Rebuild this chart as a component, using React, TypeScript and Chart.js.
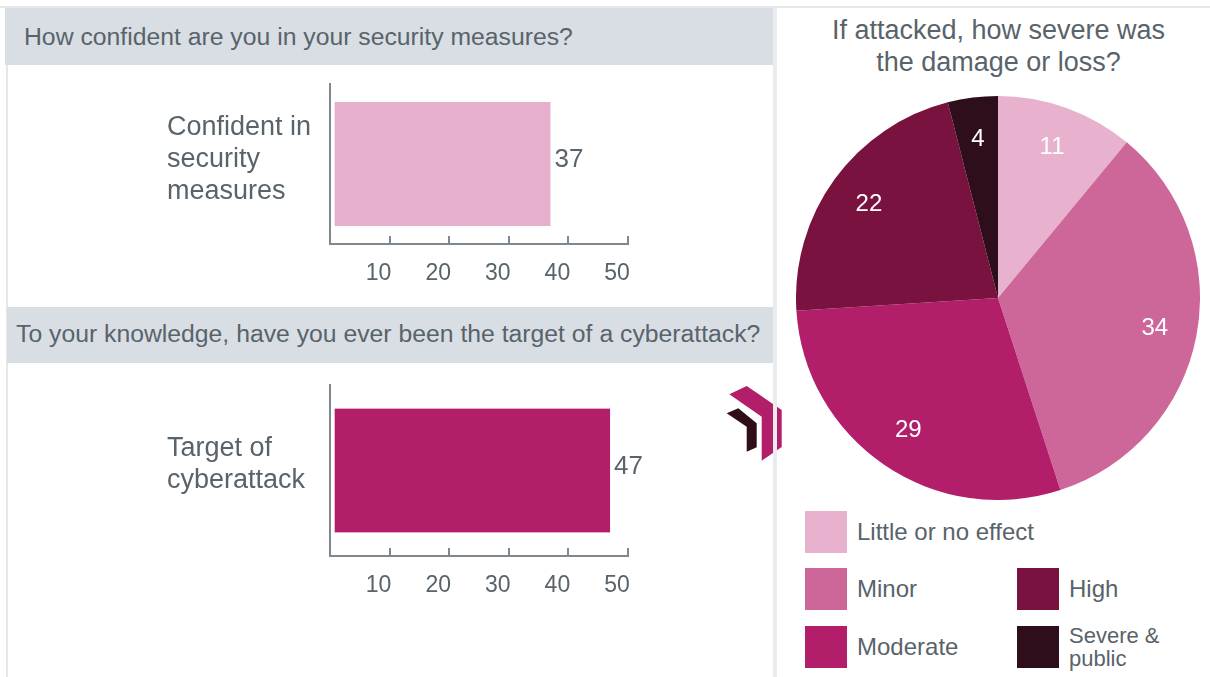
import React, { useEffect, useRef } from "react";
import { Chart, registerables } from "chart.js";

Chart.register(...registerables);

// ---------- data ----------
const xTickValues = [0, 10, 20, 30, 40, 50];
const confidenceCategory = [["Confident in", "security", "measures"]];
const confidenceValues = [37];
const attackCategory = [["Target of", "cyberattack"]];
const attackValues = [47];
const severityLabels = ["Little or no effect", "Minor", "Moderate", "High", "Severe & public"];
const severityValues = [11, 34, 29, 22, 4];
const severityColors = ["#e8b1cd", "#cd6699", "#b31e6b", "#79123f", "#2d0e1a"];

const headerOne = "How confident are you in your security measures?";
const headerTwo = "To your knowledge, have you ever been the target of a cyberattack?";
const pieTitle = ["If attacked, how severe was", "the damage or loss?"];

const FONT = "'Liberation Sans', Arial, Helvetica, sans-serif";
const TEXT = "#59636a";
const AXIS = "#7f888e";

const valueLabelPlugin = {
  id: "valueLabel",
  afterDatasetsDraw(chart: any) {
    const ctx = chart.ctx;
    const meta = chart.getDatasetMeta(0);
    const data = chart.data.datasets[0].data;
    ctx.save();
    ctx.fillStyle = TEXT;
    ctx.font = `26px ${FONT}`;
    ctx.textAlign = "left";
    ctx.textBaseline = "middle";
    meta.data.forEach((bar: any, i: number) => {
      ctx.fillText(String(data[i]), bar.x + 4, bar.y - 4);
    });
    ctx.restore();
  },
};

const pieLabelPlugin = {
  id: "pieLabel",
  afterDatasetsDraw(chart: any) {
    const ctx = chart.ctx;
    const meta = chart.getDatasetMeta(0);
    const data = chart.data.datasets[0].data;
    ctx.save();
    ctx.fillStyle = "#ffffff";
    ctx.font = `24px ${FONT}`;
    ctx.textAlign = "center";
    ctx.textBaseline = "middle";
    meta.data.forEach((arc: any, i: number) => {
      const p = arc.getProps(["x", "y", "startAngle", "endAngle", "outerRadius"], true);
      const mid = (p.startAngle + p.endAngle) / 2;
      const r = p.outerRadius * 0.79;
      ctx.fillText(String(data[i]), p.x + Math.cos(mid) * r, p.y + Math.sin(mid) * r);
    });
    ctx.restore();
  },
};

type BarProps = {
  labels: string[][];
  values: number[];
  color: string;
  left: number;
  top: number;
  width: number;
  height: number;
  labelShift: number;
};

function BarPanel({ labels, values, color, left, top, width, height, labelShift }: BarProps) {
  const ref = useRef<HTMLCanvasElement>(null);
  useEffect(() => {
    if (!ref.current) return;
    const chart = new Chart(ref.current, {
      type: "bar",
      data: {
        labels: labels as any,
        datasets: [
          {
            data: values,
            backgroundColor: color,
            borderColor: "rgba(0,0,0,0)",
            borderWidth: { left: 4, right: 0, top: 0, bottom: 0 } as any,
            borderSkipped: false,
            barThickness: 124,
          },
        ],
      },
      options: {
        indexAxis: "y",
        animation: false,
        responsive: false,
        maintainAspectRatio: false,
        layout: { padding: { top: 8, right: 39, bottom: 0, left: 0 } },
        plugins: { legend: { display: false }, tooltip: { enabled: false } },
        scales: {
          x: {
            type: "linear",
            min: 0,
            max: 50,
            afterBuildTicks: (s: any) => {
              s.ticks = xTickValues.map((v) => ({ value: v }));
            },
            afterFit: (s: any) => {
              s.height = 50;
            },
            grid: {
              display: true,
              drawOnChartArea: false,
              drawTicks: true,
              tickLength: -8,
              tickColor: AXIS,
              tickWidth: 2,
              color: AXIS,
              lineWidth: 2,
            },
            border: { display: true, color: AXIS, width: 2 },
            ticks: {
              padding: 24,
              labelOffset: -11,
              color: TEXT,
              font: { family: FONT, size: 23 },
              maxRotation: 0,
              autoSkip: false,
              callback: (v: any) => (Number(v) === 0 ? "" : String(v)),
            },
          },
          y: {
            afterFit: (s: any) => {
              s.width = 163;
              s.paddingTop = 0;
              s.paddingBottom = 0;
            },
            grid: { display: false },
            border: { display: true, color: AXIS, width: 2 },
            ticks: {
              crossAlign: "far",
              padding: 0,
              labelOffset: labelShift,
              color: TEXT,
              font: { family: FONT, size: 27, lineHeight: "32px" as any },
            },
          },
        },
      } as any,
      plugins: [valueLabelPlugin],
    });
    return () => chart.destroy();
  }, []);
  return (
    <canvas
      ref={ref}
      width={width}
      height={height}
      style={{ position: "absolute", left, top, width, height }}
    />
  );
}

function PiePanel() {
  const ref = useRef<HTMLCanvasElement>(null);
  useEffect(() => {
    if (!ref.current) return;
    const chart = new Chart(ref.current, {
      type: "pie",
      data: {
        labels: severityLabels,
        datasets: [
          {
            data: severityValues,
            backgroundColor: severityColors,
            borderWidth: 0,
          },
        ],
      },
      options: {
        animation: false,
        responsive: false,
        maintainAspectRatio: false,
        layout: { padding: 0 },
        plugins: { legend: { display: false }, tooltip: { enabled: false } },
      } as any,
      plugins: [pieLabelPlugin],
    });
    return () => chart.destroy();
  }, []);
  return (
    <canvas
      ref={ref}
      width={404}
      height={404}
      style={{ position: "absolute", left: 796, top: 96, width: 404, height: 404 }}
    />
  );
}

const legendSlots = [
  { left: 805, top: 511 },
  { left: 805, top: 568 },
  { left: 805, top: 626 },
  { left: 1017, top: 568 },
  { left: 1017, top: 626 },
];

function Legend() {
  return (
    <>
      {severityLabels.map((lab, i) => {
        const slot = legendSlots[i];
        const twoLine = lab === "Severe & public";
        return (
          <div key={lab}>
            <div
              style={{
                position: "absolute",
                left: slot.left,
                top: slot.top,
                width: 42,
                height: 42,
                background: severityColors[i],
              }}
            />
            <div
              style={{
                position: "absolute",
                left: slot.left + 52,
                top: slot.top,
                height: 42,
                display: "flex",
                alignItems: "center",
                fontFamily: FONT,
                fontSize: twoLine ? 22 : 24,
                lineHeight: twoLine ? "23px" : "28px",
                color: TEXT,
                width: 260,
                whiteSpace: "nowrap",
              }}
            >
              {twoLine ? (
                <span>
                  Severe &amp;
                  <br />
                  public
                </span>
              ) : (
                <span>{lab}</span>
              )}
            </div>
          </div>
        );
      })}
    </>
  );
}

export default function App() {
  return (
    <div
      style={{
        position: "absolute",
        left: 0,
        top: 0,
        width: 1210,
        height: 677,
        background: "#ffffff",
        overflow: "hidden",
        fontFamily: FONT,
      }}
    >
      {/* frame lines */}
      <div style={{ position: "absolute", left: 0, top: 6, width: 1210, height: 2, background: "#e4e8eb" }} />
      <div style={{ position: "absolute", left: 6, top: 8, width: 2, height: 669, background: "#e4e8eb" }} />

      {/* header bands */}
      <div
        style={{
          position: "absolute",
          left: 5,
          top: 8,
          width: 768,
          height: 57,
          background: "#d8dee4",
          color: TEXT,
          fontSize: 24.75,
          lineHeight: "57px",
          paddingLeft: 19,
          boxSizing: "border-box",
          whiteSpace: "nowrap",
        }}
      >
        {headerOne}
      </div>
      <div
        style={{
          position: "absolute",
          left: 7,
          top: 307,
          width: 766,
          height: 56,
          background: "#d8dee4",
          color: TEXT,
          fontSize: 24.75,
          lineHeight: "54px",
          paddingLeft: 9,
          boxSizing: "border-box",
          whiteSpace: "nowrap",
        }}
      >
        {headerTwo}
      </div>

      <BarPanel
        labels={confidenceCategory}
        values={confidenceValues}
        color="#e6b0cc"
        left={167}
        top={76}
        width={500}
        height={218}
        labelShift={-4}
      />
      <BarPanel
        labels={attackCategory}
        values={attackValues}
        color="#b31e6a"
        left={167}
        top={377}
        width={500}
        height={229}
        labelShift={-6}
      />

      {/* chevron decoration */}
      <svg
        width={70}
        height={90}
        viewBox="720 380 70 90"
        style={{ position: "absolute", left: 720, top: 380 }}
      >
        <polygon points="729.3,394.3 746.7,386 781.7,410 781.7,447 761.7,460.7 761.7,416.7" fill="#b31e6a" />
        <polygon points="726.7,413.3 738.3,408.3 756.7,423.3 756.7,447.3 746.7,451.7 746.7,426.7" fill="#2d0e1a" />
      </svg>

      {/* divider between panels */}
      <div style={{ position: "absolute", left: 773, top: 8, width: 4, height: 669, background: "#e9ecef" }} />

      {/* pie title */}
      <div
        style={{
          position: "absolute",
          left: 777,
          top: 14,
          width: 443,
          textAlign: "center",
          color: TEXT,
          fontSize: 27,
          lineHeight: "32px",
        }}
      >
        {pieTitle[0]}
        <br />
        {pieTitle[1]}
      </div>

      <PiePanel />
      <Legend />
    </div>
  );
}
